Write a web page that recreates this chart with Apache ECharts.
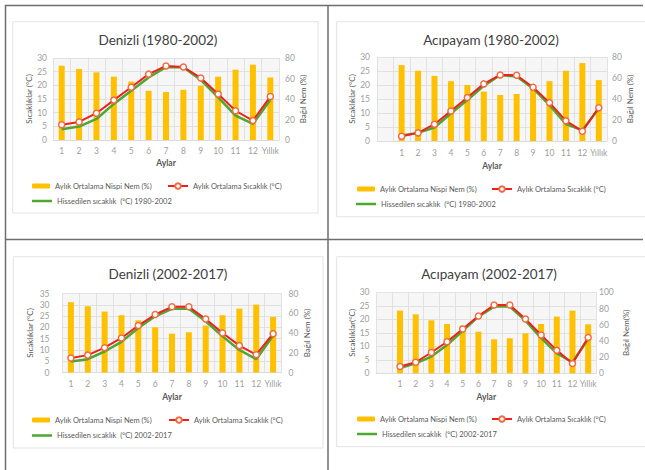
<!DOCTYPE html>
<html><head><meta charset="utf-8">
<script src="https://cdn.jsdelivr.net/npm/echarts@6/dist/echarts.min.js"></script>
<style>html,body{margin:0;padding:0;background:#fff}#c{width:645px;height:470px}</style>
</head><body><div id="c"></div>
<script>
// ---------- DATA ----------
const months = ['1','2','3','4','5','6','7','8','9','10','11','12','Yıllık'];

const denizli1Humidity = [72.5,69.3,66,61.8,57,48,46.8,49,53,61.8,68.6,73.5,61];
const denizli1Temp     = [5.6,6.6,9.8,14.6,19.3,24.1,27.1,26.7,22.7,16.8,10.7,7.1,15.9];
const denizli1Feel     = [3.9,4.9,7.7,13.2,18,22.9,26.6,26.6,22,15.6,8.9,5.9,14.6];

const acipayam1Humidity = [72.3,66.9,62,57,53.4,47,43.8,44.8,51,57,66.9,74.2,58];
const acipayam1Temp     = [1.7,2.9,6,10.7,15.5,20.4,23.6,23.5,19.2,13.7,7.2,3.5,11.9];
const acipayam1Feel     = [2,2.9,4.8,9.8,14.6,19.7,23.6,23,18.8,12.8,6,3.8,11.6];

const denizli2Humidity = [71.2,67.1,61.7,58,52.9,45.8,39.3,40.7,47.5,58,64.7,68.8,56.3];
const denizli2Temp     = [6.4,7.7,11,15.3,20.8,25.7,29.1,29.1,23.7,17.5,11.9,7.9,17.2];
const denizli2Feel     = [4.9,5.9,9.3,13.6,19.7,24.9,28.2,28.2,22.7,16,10,5.9,16.3];

const acipayam2Humidity = [77.4,72.8,65.4,60.9,58.8,51.4,42,43.2,49.4,60.9,70,77.4,60.5];
const acipayam2Temp     = [2.5,4.1,7.7,11.7,16.4,21.2,25.3,25.3,20.1,14.2,8.5,3.6,13.3];
const acipayam2Feel     = [1.9,3.7,6.2,10.5,15.7,21,24.7,24.7,19.5,13,7.4,4.1,12.7];

const titles = ['Denizli (1980-2002)','Acıpayam (1980-2002)','Denizli (2002-2017)','Acıpayam (2002-2017)'];
const humName = 'Aylık Ortalama Nispi Nem (%)';
const tempName = 'Aylık Ortalama Sıcaklık (°C)';
const feelNames = ['Hissedilen sıcaklık  (°C) 1980-2002','Hissedilen sıcaklık  (°C) 1980-2002','Hissedilen sıcaklık  (°C) 2002-2017','Hissedilen sıcaklık  (°C) 2002-2017'];
const leftNames = ['Sıcaklıklar (°C)','Sıcaklıklar (°C)','Sıcaklıklar (°C)','Sıcaklıklar(°C)'];
const rightNames = ['Bağıl Nem (%)','Bağıl Nem (%)','Bağıl Nem (%)','Bağıl Nem(%)'];
const tempMax = [30,30,35,30];
const humMax = [80,80,80,100];
const leadingEmpty = [false,true,false,true];

const dataSets = [
  [denizli1Humidity, denizli1Temp, denizli1Feel],
  [acipayam1Humidity, acipayam1Temp, acipayam1Feel],
  [denizli2Humidity, denizli2Temp, denizli2Feel],
  [acipayam2Humidity, acipayam2Temp, acipayam2Feel]
];

// ---------- LAYOUT ----------
const FONT = 'Lato';
const layouts = [
  {grid:{left:53,top:58,width:226,height:82}, tx:158, ty:33, lGap:20, rGap:19, xGap:18, lM:6, rM:6, xM:6, leg:[[32,187],[167,187],[32,202]]},
  {grid:{left:377,top:57,width:230,height:84}, tx:491, ty:33, lGap:19, rGap:19, xGap:20, lM:7, rM:5, xM:7, leg:[[357,190],[491,190],[356,205]]},
  {grid:{left:62.5,top:293.5,width:219,height:79}, tx:168, ty:267, lGap:29, rGap:21, xGap:20, lM:13, rM:7, xM:7, leg:[[32,421],[168,421],[32,436.5]]},
  {grid:{left:376.5,top:292.3,width:219.5,height:81}, tx:489, ty:267, lGap:19, rGap:26, xGap:19.5, lM:7, rM:3, xM:6, leg:[[357,420],[491,420],[357,435]]}
];

const chart = echarts.init(document.getElementById('c'), null, {renderer:'svg'});

const option = {
  backgroundColor:'#fff',
  animation:false,
  textStyle:{fontFamily:FONT},
  title:[], grid:[], xAxis:[], yAxis:[], series:[], legend:[],
  graphic:[]
};

const axisLabelStyle = {color:'#a0a0a0', fontSize:8.5, fontFamily:FONT};
const nameStyle = {color:'#595959', fontSize:8, fontFamily:FONT};
const gridLine = {lineStyle:{color:'#dcdcdc', width:0.8}};

titles.forEach((t,i)=>{
  const L = layouts[i];
  const cats = leadingEmpty[i] ? [''].concat(months) : months;
  const pad = arr => leadingEmpty[i] ? ['-'].concat(arr) : arr;
  const [hum,temp,feel] = dataSets[i];

  option.title.push({text:t, left:L.tx, top:L.ty, textAlign:'center', padding:0,
    textStyle:{fontSize:13.5, fontWeight:'normal', color:'#404040', fontFamily:FONT}});
  option.grid.push(Object.assign({show:true, backgroundColor:'#f6f6f6', borderWidth:0, containLabel:false}, L.grid));
  option.xAxis.push({type:'category', gridIndex:i, data:cats, boundaryGap:true,
    name:'Aylar', nameLocation:'middle', nameGap:L.xGap,
    nameTextStyle:{color:'#595959', fontSize:8.5, fontWeight:'bold', fontFamily:FONT},
    axisLine:{show:true, lineStyle:{color:'#dcdcdc'}}, axisTick:{show:false},
    axisLabel:Object.assign({margin:L.xM, interval:0}, axisLabelStyle),
    splitLine:{show:true, interval:0, lineStyle:{color:'#dcdcdc', width:0.8}}});
  option.yAxis.push({type:'value', gridIndex:i, min:0, max:tempMax[i], interval:5, position:'left',
    name:leftNames[i], nameLocation:'middle', nameGap:L.lGap, nameRotate:90, nameTextStyle:nameStyle,
    axisLine:{show:false}, axisTick:{show:false},
    axisLabel:Object.assign({margin:L.lM}, axisLabelStyle), splitLine:Object.assign({show:true}, gridLine)});
  option.yAxis.push({type:'value', gridIndex:i, min:0, max:humMax[i], interval:20, position:'right',
    name:rightNames[i], nameLocation:'middle', nameGap:L.rGap, nameRotate:90, nameTextStyle:nameStyle,
    axisLine:{show:false}, axisTick:{show:false},
    axisLabel:Object.assign({margin:L.rM}, axisLabelStyle), splitLine:{show:false}});

  option.series.push({type:'bar', name:humName, xAxisIndex:i, yAxisIndex:2*i+1, data:pad(hum),
    barWidth:6, itemStyle:{color:'#FFC000'}, z:1});
  option.series.push({type:'line', name:feelNames[i], xAxisIndex:i, yAxisIndex:2*i, data:pad(feel),
    symbol:'none', lineStyle:{color:'#4EA72E', width:2.5}, itemStyle:{color:'#4EA72E'}, z:3});
  option.series.push({type:'line', name:tempName, xAxisIndex:i, yAxisIndex:2*i, data:pad(temp),
    symbol:'circle', symbolSize:6, showSymbol:true,
    lineStyle:{color:'#F21F1F', width:2}, itemStyle:{color:'#fff', borderColor:'#F26B43', borderWidth:1.5}, z:4});

  const legStyle = {fontSize:7.5, color:'#595959', fontFamily:FONT};
  const names = [humName, tempName, feelNames[i]];
  names.forEach((n,k)=>{
    const leg = {data:[n], left:L.leg[k][0], top:L.leg[k][1]-5, padding:0, itemGap:0,
      itemWidth:k===0?18:20, itemHeight:k===0?5:7, selectedMode:false, textStyle:legStyle};
    if (k===2) { leg.icon = 'rect'; leg.itemHeight = 2.5; leg.top = L.leg[k][1]-5; }
    option.legend.push(leg);
  });
});

// frames & chart boxes (decoration)
const boxes = [[12.7,21.7,305.3,191.3],[336.7,21.7,320,195],[13.3,256.7,309.7,191.3],[336.7,256.7,320,190]];
boxes.forEach(b=>option.graphic.push({type:'rect', shape:{x:b[0],y:b[1],width:b[2],height:b[3]},
  style:{fill:'none', stroke:'#e3e3e3', lineWidth:1}, silent:true, z:-1}));
const lines = [[5,5.5,643,5.5],[5.5,5,5.5,470],[328,5,328,470],[5,239.5,643,239.5]];
lines.forEach(l=>option.graphic.push({type:'line', shape:{x1:l[0],y1:l[1],x2:l[2],y2:l[3]},
  style:{stroke:'#6e6e6e', lineWidth:1.5}, silent:true}));

chart.setOption(option);
</script></body></html>
